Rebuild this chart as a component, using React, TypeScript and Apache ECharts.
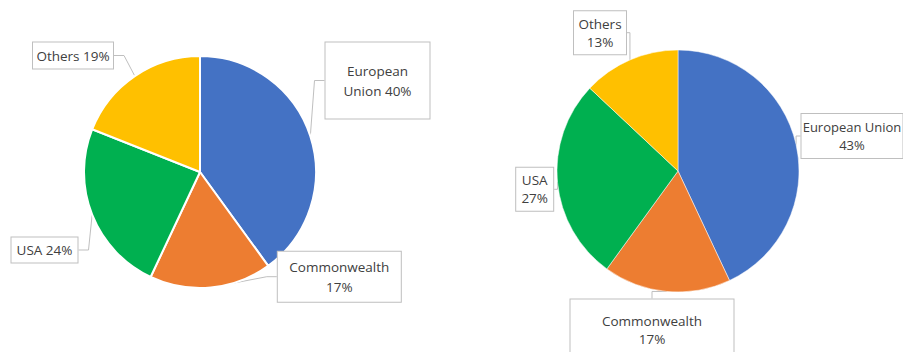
import React, { useEffect, useRef } from 'react';
import * as echarts from 'echarts';

const categories = ['European Union', 'Commonwealth', 'USA', 'Others'];
const sliceColors = ['#4472C4', '#ED7D31', '#00B050', '#FFC000'];
const leftValues = [40, 17, 24, 19];
const rightValues = [43, 17, 27, 13];
// label text (before the percentage)
const leftLabelText = ['European\nUnion ', 'Commonwealth\n', 'USA ', 'Others '];
const rightLabelText = ['European Union\n', 'Commonwealth\n', 'USA\n', 'Others\n'];

// label boxes: [centerX, centerY, width, height, fontSize]
const leftBoxes = [
  [377.5, 80.5, 104, 76, 13.5],
  [339.3, 276.7, 123, 50, 13.5],
  [44.5, 250, 66, 25, 13.5],
  [73, 55.5, 80, 26, 13.5],
];
const rightBoxes = [
  [852, 136, 101, 44, 13],
  [652, 329.5, 163, 60, 13.5],
  [534.7, 189.3, 37, 43, 13.5],
  [600, 32.7, 52, 43, 13.5],
];

const FONT = '"Open Sans", "Noto Sans", sans-serif';

function buildData(values: number[], texts: string[], boxes: number[][], lh: number) {
  return categories.map((name, i) => {
    const text = texts[i] + values[i] + '%';
    const lines = text.split('\n').length;
    const pv = Math.max(0, (boxes[i][3] - lines * lh) / 2);
    return {
      name,
      value: values[i],
      itemStyle: { color: sliceColors[i] },
      label: {
        formatter: text,
        width: boxes[i][2],
        fontSize: boxes[i][4],
        padding: [pv, 0, pv, 0],
        lineHeight: lh,
      },
    };
  });
}

function makeSeries(center: number[], radius: number, values: number[], texts: string[], boxes: number[][], lh: number, border: number) {
  return {
    type: 'pie',
    center,
    radius,
    startAngle: 90,
    clockwise: true,
    avoidLabelOverlap: false,
    itemStyle: { borderColor: '#ffffff', borderWidth: border },
    label: {
      show: true,
      position: 'outside',
      color: '#404040',
      fontFamily: FONT,
      fontSize: 13.5,
      align: 'center',
      backgroundColor: '#ffffff',
      borderColor: '#bfbfbf',
      borderWidth: 1,
    },
    labelLine: {
      show: true,
      length: 10,
      length2: 10,
      lineStyle: { color: '#bfbfbf', width: 1 },
    },
    labelLayout: (params: any) => {
      const b = boxes[params.dataIndex];
      return { x: b[0], y: b[1], align: 'center', verticalAlign: 'middle' };
    },
    emphasis: { disabled: true },
    data: buildData(values, texts, boxes, lh),
  };
}

export default function App() {
  const ref = useRef<HTMLDivElement>(null);
  useEffect(() => {
    if (!ref.current) return;
    const chart = echarts.init(ref.current, undefined, { renderer: 'svg' });
    chart.setOption({
      animation: false,
      backgroundColor: '#ffffff',
      series: [
        makeSeries([200, 172], 116, leftValues, leftLabelText, leftBoxes, 20, 2),
        makeSeries([678, 171], 121, rightValues, rightLabelText, rightBoxes, 18, 0.5),
      ],
    });
    return () => chart.dispose();
  }, []);
  return (
    <div
      ref={ref}
      style={{ position: 'fixed', left: 0, top: 0, width: 903, height: 352 }}
    />
  );
}
